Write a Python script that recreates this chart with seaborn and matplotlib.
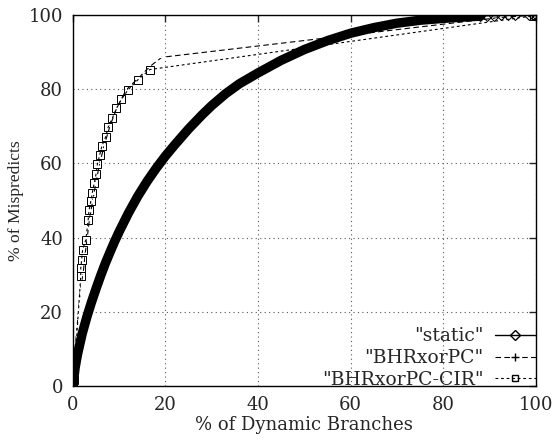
import matplotlib

matplotlib.use("Agg")
import matplotlib.pyplot as plt
import pandas as pd
import seaborn as sns
from matplotlib.lines import Line2D

# static: dense band of points up to ~88 %, then sparse diamonds
static_x = [0, 0.5, 1, 2, 3, 4, 5, 6, 7, 8, 9, 10, 12, 14, 16, 18, 20, 22, 25,
            28, 30, 33, 36, 40, 45, 50, 55, 60, 65, 70, 75, 80, 85, 88]
static_y = [0, 5, 8.5, 14, 18.5, 22.5, 26.2, 29.7, 33, 36, 38.9, 41.6, 46.6,
            51.1, 55.1, 58.7, 62, 65, 69.3, 73.2, 75.6, 78.8, 81.5, 84.4, 87.8,
            90.7, 93.1, 95.1, 96.6, 97.8, 98.6, 99.1, 99.5, 99.7]
static_tail_x = [88, 89.5, 91, 92.5, 94, 95.5, 98.5, 99.3, 100]
static_tail_y = [99.7, 99.8, 99.8, 99.9, 99.9, 100, 100, 100, 100]

bhr_x = [0, 0.15, 0.3, 0.45, 0.6, 0.75, 0.9, 1.05, 1.2, 1.4, 1.6, 1.8, 2.2,
         2.6, 3.1, 3.6, 4.3, 5.0, 5.8, 6.8, 8.0, 9.5, 11.5, 14.3, 16.6, 19.2,
         92, 100]
bhr_y = [0, 3, 6, 9, 11.5, 14, 16, 18, 20, 22.7, 25.6, 27.5, 30, 35, 40, 45,
         50, 55, 60, 65, 70, 75, 79.8, 83.2, 86.1, 88.6, 99.3, 100]

cir_x = [0, 0.2, 1.7, 1.7, 1.9, 2.1, 2.8, 3.3, 3.5, 3.9, 4.2, 4.6, 5.0, 5.3,
         5.8, 6.3, 7.1, 7.6, 8.5, 9.4, 10.5, 11.9, 14.1, 16.6, 99.5, 100]
cir_y = [0, 1.5, 29.5, 31.7, 34, 36.7, 39.4, 44.7, 47.4, 49.9, 52.1, 54.6,
         57.1, 59.8, 62.3, 64.8, 67.2, 69.7, 72.1, 74.8, 77.3, 79.8, 82.6,
         85.3, 99.8, 100]

x_ticks = [0, 20, 40, 60, 80, 100]
y_ticks = [0, 20, 40, 60, 80, 100]

sns.set_style("white")
plt.rcParams["font.family"] = ["DejaVu Serif", "Liberation Serif"]
plt.rcParams["font.size"] = 13

fig = plt.figure(figsize=(5.52, 4.42), dpi=100)
ax = fig.add_axes([0.132, 0.127, 0.839, 0.839])

static_df = pd.DataFrame({"x": static_x, "y": static_y})
tail_df = pd.DataFrame({"x": static_tail_x, "y": static_tail_y})
bhr_df = pd.DataFrame({"x": bhr_x, "y": bhr_y})
cir_df = pd.DataFrame({"x": cir_x, "y": cir_y})

sns.lineplot(data=static_df, x="x", y="y", sort=False, estimator=None,
             color="black", linewidth=6.8, solid_capstyle="round",
             solid_joinstyle="round", ax=ax, zorder=3)
sns.lineplot(data=tail_df, x="x", y="y", sort=False, estimator=None,
             color="black", linewidth=1.0, marker="D", markersize=5,
             markerfacecolor="none", markeredgecolor="black", ax=ax, zorder=3)
sns.lineplot(data=bhr_df, x="x", y="y", sort=False, estimator=None,
             color="black", linewidth=0.8, linestyle=(0, (5, 3)), marker="+",
             markersize=6, markeredgewidth=0.8, ax=ax, zorder=2)
sns.lineplot(data=cir_df, x="x", y="y", sort=False, estimator=None,
             color="black", linewidth=0.8, linestyle=(0, (2.5, 2.5)), marker="s",
             markersize=6, markerfacecolor="none", markeredgewidth=0.7,
             markeredgecolor="black", ax=ax, zorder=2)

ax.set_xlim(0, 100)
ax.set_ylim(0, 100)
ax.set_xticks(x_ticks)
ax.set_yticks(y_ticks)
ax.grid(True, color="#555555", linestyle=(0, (1, 3)), linewidth=0.8)
ax.tick_params(direction="in", top=True, right=True, length=5, width=1,
               labelsize=13, pad=7)
for spine in ax.spines.values():
    spine.set_linewidth(1.0)
    spine.set_color("black")
ax.set_xlabel("% of Dynamic Branches", fontsize=13, labelpad=2)
ax.set_ylabel("% of Mispredicts", fontsize=12.6, labelpad=3,
              family=["Liberation Serif", "DejaVu Serif"])

handles = [
    Line2D([], [], color="black", linewidth=1.0, marker="D", markersize=5,
           markerfacecolor="none"),
    Line2D([], [], color="black", linewidth=0.8, linestyle=(0, (5, 3)),
           marker="+", markersize=6),
    Line2D([], [], color="black", linewidth=0.8, linestyle=(0, (2.5, 2.5)),
           marker="s", markersize=5, markerfacecolor="none"),
]
labels = ['"static"', '"BHRxorPC"', '"BHRxorPC-CIR"']
ax.legend(handles, labels, loc="lower right", bbox_to_anchor=(1.0, -0.008),
          frameon=False, markerfirst=False, handlelength=2.2,
          handletextpad=0.6, borderaxespad=0.0, labelspacing=0.2,
          fontsize=13.5, borderpad=0.0)

plt.savefig("out.png", dpi=100)
plt.close(fig)
